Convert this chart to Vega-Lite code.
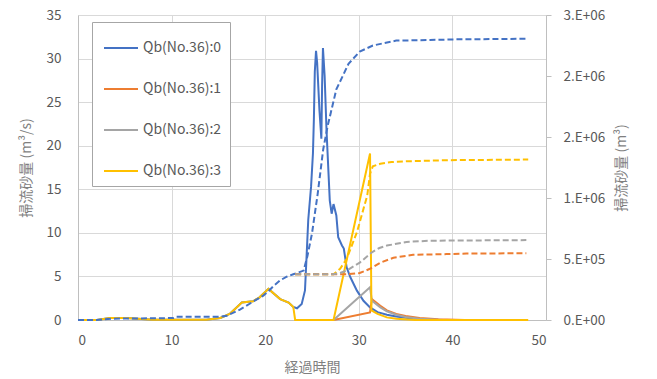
{
  "$schema": "https://vega.github.io/schema/vega-lite/v6.json",
  "width": 468,
  "height": 305,
  "autosize": {"type": "none"},
  "padding": {"left": 78, "top": 15, "right": 111, "bottom": 59},
  "background": "white",
  "config": {
    "view": {"stroke": null},
    "font": "Noto Sans CJK JP",
    "axis": {
      "labelFont": "Noto Sans CJK JP",
      "titleFont": "Noto Sans CJK JP",
      "labelFontSize": 13.5,
      "titleFontSize": 14,
      "titleFontWeight": "normal",
      "labelColor": "#595959",
      "titleColor": "#7f7f7f",
      "gridColor": "#d9d9d9",
      "gridWidth": 1,
      "domainColor": "#bfbfbf",
      "tickColor": "#bfbfbf"
    }
  },
  "datasets": {
    "rate": [
      {"s": "Qb(No.36):0", "t": 0, "q": 0},
      {"s": "Qb(No.36):0", "t": 2, "q": 0},
      {"s": "Qb(No.36):0", "t": 3.4, "q": 0.23},
      {"s": "Qb(No.36):0", "t": 5.2, "q": 0.23},
      {"s": "Qb(No.36):0", "t": 8, "q": 0.02},
      {"s": "Qb(No.36):0", "t": 13.7, "q": 0.02},
      {"s": "Qb(No.36):0", "t": 15.2, "q": 0.23},
      {"s": "Qb(No.36):0", "t": 16.2, "q": 0.7},
      {"s": "Qb(No.36):0", "t": 17, "q": 1.5},
      {"s": "Qb(No.36):0", "t": 17.5, "q": 2.0},
      {"s": "Qb(No.36):0", "t": 18.7, "q": 2.15},
      {"s": "Qb(No.36):0", "t": 19.4, "q": 2.6},
      {"s": "Qb(No.36):0", "t": 20.35, "q": 3.57},
      {"s": "Qb(No.36):0", "t": 21.6, "q": 2.4},
      {"s": "Qb(No.36):0", "t": 22.5, "q": 2.0},
      {"s": "Qb(No.36):0", "t": 23.0, "q": 1.5},
      {"s": "Qb(No.36):0", "t": 23.4, "q": 1.35},
      {"s": "Qb(No.36):0", "t": 23.9, "q": 1.84},
      {"s": "Qb(No.36):0", "t": 24.25, "q": 3.4},
      {"s": "Qb(No.36):0", "t": 24.4, "q": 6.8},
      {"s": "Qb(No.36):0", "t": 24.6, "q": 11.5},
      {"s": "Qb(No.36):0", "t": 24.9, "q": 15.3},
      {"s": "Qb(No.36):0", "t": 25.1, "q": 19.1},
      {"s": "Qb(No.36):0", "t": 25.2, "q": 23},
      {"s": "Qb(No.36):0", "t": 25.3, "q": 28.5},
      {"s": "Qb(No.36):0", "t": 25.43, "q": 30.9},
      {"s": "Qb(No.36):0", "t": 25.55, "q": 29.5},
      {"s": "Qb(No.36):0", "t": 25.8, "q": 24},
      {"s": "Qb(No.36):0", "t": 26.0, "q": 20.8},
      {"s": "Qb(No.36):0", "t": 26.08, "q": 27},
      {"s": "Qb(No.36):0", "t": 26.17, "q": 31.2},
      {"s": "Qb(No.36):0", "t": 26.35, "q": 28},
      {"s": "Qb(No.36):0", "t": 26.55, "q": 21.8},
      {"s": "Qb(No.36):0", "t": 26.9, "q": 13.7},
      {"s": "Qb(No.36):0", "t": 27.1, "q": 12.2},
      {"s": "Qb(No.36):0", "t": 27.3, "q": 13.3},
      {"s": "Qb(No.36):0", "t": 27.6, "q": 12.0},
      {"s": "Qb(No.36):0", "t": 27.8, "q": 9.5},
      {"s": "Qb(No.36):0", "t": 28.2, "q": 8.55},
      {"s": "Qb(No.36):0", "t": 28.4, "q": 8.2},
      {"s": "Qb(No.36):0", "t": 28.7, "q": 6.05},
      {"s": "Qb(No.36):0", "t": 29.1, "q": 4.9},
      {"s": "Qb(No.36):0", "t": 29.8, "q": 3.37},
      {"s": "Qb(No.36):0", "t": 30.5, "q": 2.2},
      {"s": "Qb(No.36):0", "t": 31.2, "q": 1.45},
      {"s": "Qb(No.36):0", "t": 32, "q": 0.9},
      {"s": "Qb(No.36):0", "t": 33, "q": 0.6},
      {"s": "Qb(No.36):0", "t": 34, "q": 0.4},
      {"s": "Qb(No.36):0", "t": 35, "q": 0.25},
      {"s": "Qb(No.36):0", "t": 36.5, "q": 0.1},
      {"s": "Qb(No.36):0", "t": 38.3, "q": 0},
      {"s": "Qb(No.36):1", "t": 23.2, "q": 0},
      {"s": "Qb(No.36):1", "t": 27.3, "q": 0},
      {"s": "Qb(No.36):1", "t": 31.2, "q": 0.87},
      {"s": "Qb(No.36):1", "t": 31.4, "q": 2.4},
      {"s": "Qb(No.36):1", "t": 32.3, "q": 1.64},
      {"s": "Qb(No.36):1", "t": 33, "q": 1.1},
      {"s": "Qb(No.36):1", "t": 34, "q": 0.69},
      {"s": "Qb(No.36):1", "t": 35, "q": 0.45},
      {"s": "Qb(No.36):1", "t": 36.5, "q": 0.23},
      {"s": "Qb(No.36):1", "t": 38.5, "q": 0.1},
      {"s": "Qb(No.36):1", "t": 41.3, "q": 0},
      {"s": "Qb(No.36):2", "t": 23.2, "q": 0},
      {"s": "Qb(No.36):2", "t": 27.3, "q": 0},
      {"s": "Qb(No.36):2", "t": 31.2, "q": 3.75},
      {"s": "Qb(No.36):2", "t": 31.4, "q": 2.2},
      {"s": "Qb(No.36):2", "t": 32.3, "q": 1.45},
      {"s": "Qb(No.36):2", "t": 33, "q": 1.0},
      {"s": "Qb(No.36):2", "t": 34, "q": 0.6},
      {"s": "Qb(No.36):2", "t": 35, "q": 0.35},
      {"s": "Qb(No.36):2", "t": 36.5, "q": 0.15},
      {"s": "Qb(No.36):2", "t": 39, "q": 0},
      {"s": "Qb(No.36):3", "t": 0, "q": 0},
      {"s": "Qb(No.36):3", "t": 2, "q": 0},
      {"s": "Qb(No.36):3", "t": 3.4, "q": 0.23},
      {"s": "Qb(No.36):3", "t": 5.2, "q": 0.23},
      {"s": "Qb(No.36):3", "t": 8, "q": 0.02},
      {"s": "Qb(No.36):3", "t": 13.7, "q": 0.02},
      {"s": "Qb(No.36):3", "t": 15.2, "q": 0.23},
      {"s": "Qb(No.36):3", "t": 16.2, "q": 0.7},
      {"s": "Qb(No.36):3", "t": 17, "q": 1.5},
      {"s": "Qb(No.36):3", "t": 17.5, "q": 2.0},
      {"s": "Qb(No.36):3", "t": 18.7, "q": 2.15},
      {"s": "Qb(No.36):3", "t": 19.4, "q": 2.6},
      {"s": "Qb(No.36):3", "t": 20.35, "q": 3.57},
      {"s": "Qb(No.36):3", "t": 21.6, "q": 2.4},
      {"s": "Qb(No.36):3", "t": 22.5, "q": 2.0},
      {"s": "Qb(No.36):3", "t": 23.0, "q": 1.5},
      {"s": "Qb(No.36):3", "t": 23.2, "q": 0},
      {"s": "Qb(No.36):3", "t": 27.3, "q": 0},
      {"s": "Qb(No.36):3", "t": 31.2, "q": 19.1},
      {"s": "Qb(No.36):3", "t": 31.35, "q": 1.1},
      {"s": "Qb(No.36):3", "t": 32, "q": 0.7},
      {"s": "Qb(No.36):3", "t": 33, "q": 0.3},
      {"s": "Qb(No.36):3", "t": 34, "q": 0.15},
      {"s": "Qb(No.36):3", "t": 36, "q": 0},
      {"s": "Qb(No.36):3", "t": 48.1, "q": 0}
    ],
    "vol": [
      {"s": "Qb(No.36):0", "t": 0, "v": 0},
      {"s": "Qb(No.36):0", "t": 2, "v": 0},
      {"s": "Qb(No.36):0", "t": 3.8, "v": 11000},
      {"s": "Qb(No.36):0", "t": 10.2, "v": 16000},
      {"s": "Qb(No.36):0", "t": 10.5, "v": 27000},
      {"s": "Qb(No.36):0", "t": 15.2, "v": 27000},
      {"s": "Qb(No.36):0", "t": 15.9, "v": 35000},
      {"s": "Qb(No.36):0", "t": 17.3, "v": 85000},
      {"s": "Qb(No.36):0", "t": 18.7, "v": 150000},
      {"s": "Qb(No.36):0", "t": 19.8, "v": 200000},
      {"s": "Qb(No.36):0", "t": 20.4, "v": 240000},
      {"s": "Qb(No.36):0", "t": 20.9, "v": 280000},
      {"s": "Qb(No.36):0", "t": 21.6, "v": 325000},
      {"s": "Qb(No.36):0", "t": 22.3, "v": 355000},
      {"s": "Qb(No.36):0", "t": 23.0, "v": 375000},
      {"s": "Qb(No.36):0", "t": 24.1, "v": 405000},
      {"s": "Qb(No.36):0", "t": 24.5, "v": 520000},
      {"s": "Qb(No.36):0", "t": 25.0, "v": 710000},
      {"s": "Qb(No.36):0", "t": 25.6, "v": 1030000},
      {"s": "Qb(No.36):0", "t": 26.2, "v": 1400000},
      {"s": "Qb(No.36):0", "t": 26.7, "v": 1600000},
      {"s": "Qb(No.36):0", "t": 27.6, "v": 1890000},
      {"s": "Qb(No.36):0", "t": 28.9, "v": 2100000},
      {"s": "Qb(No.36):0", "t": 30.1, "v": 2200000},
      {"s": "Qb(No.36):0", "t": 31.5, "v": 2250000},
      {"s": "Qb(No.36):0", "t": 34, "v": 2290000},
      {"s": "Qb(No.36):0", "t": 37.6, "v": 2295000},
      {"s": "Qb(No.36):0", "t": 40.1, "v": 2300000},
      {"s": "Qb(No.36):0", "t": 47.9, "v": 2305000},
      {"s": "Qb(No.36):3", "t": 23.2, "v": 375000},
      {"s": "Qb(No.36):3", "t": 27.3, "v": 375000},
      {"s": "Qb(No.36):3", "t": 28.0, "v": 420000},
      {"s": "Qb(No.36):3", "t": 28.7, "v": 500000},
      {"s": "Qb(No.36):3", "t": 29.8, "v": 720000},
      {"s": "Qb(No.36):3", "t": 30.9, "v": 1020000},
      {"s": "Qb(No.36):3", "t": 31.2, "v": 1200000},
      {"s": "Qb(No.36):3", "t": 31.5, "v": 1260000},
      {"s": "Qb(No.36):3", "t": 32.3, "v": 1280000},
      {"s": "Qb(No.36):3", "t": 33.5, "v": 1295000},
      {"s": "Qb(No.36):3", "t": 34.8, "v": 1300000},
      {"s": "Qb(No.36):3", "t": 39.4, "v": 1310000},
      {"s": "Qb(No.36):3", "t": 48.1, "v": 1315000},
      {"s": "Qb(No.36):1", "t": 23.2, "v": 375000},
      {"s": "Qb(No.36):1", "t": 28.5, "v": 375000},
      {"s": "Qb(No.36):1", "t": 30.1, "v": 385000},
      {"s": "Qb(No.36):1", "t": 31.2, "v": 420000},
      {"s": "Qb(No.36):1", "t": 32.3, "v": 470000},
      {"s": "Qb(No.36):1", "t": 33.7, "v": 510000},
      {"s": "Qb(No.36):1", "t": 35.8, "v": 535000},
      {"s": "Qb(No.36):1", "t": 39.4, "v": 540000},
      {"s": "Qb(No.36):1", "t": 41.5, "v": 545000},
      {"s": "Qb(No.36):1", "t": 47.9, "v": 547000},
      {"s": "Qb(No.36):2", "t": 23.2, "v": 375000},
      {"s": "Qb(No.36):2", "t": 27.3, "v": 375000},
      {"s": "Qb(No.36):2", "t": 28.0, "v": 385000},
      {"s": "Qb(No.36):2", "t": 28.7, "v": 405000},
      {"s": "Qb(No.36):2", "t": 30.1, "v": 470000},
      {"s": "Qb(No.36):2", "t": 31.4, "v": 555000},
      {"s": "Qb(No.36):2", "t": 32.2, "v": 590000},
      {"s": "Qb(No.36):2", "t": 33, "v": 610000},
      {"s": "Qb(No.36):2", "t": 35.1, "v": 640000},
      {"s": "Qb(No.36):2", "t": 37.6, "v": 650000},
      {"s": "Qb(No.36):2", "t": 41.9, "v": 652000},
      {"s": "Qb(No.36):2", "t": 47.9, "v": 655000}
    ]
  },
  "layer": [
    {
      "data": {"name": "rate"},
      "mark": {"type": "line", "strokeWidth": 2},
      "encoding": {
        "x": {
          "field": "t", "type": "quantitative",
          "scale": {"domain": [0, 50], "nice": false},
          "axis": {
            "title": "経過時間",
            "values": [0, 10, 20, 30, 40, 50],
            "grid": true, "ticks": false, "tickSize": 0,
            "labelPadding": 13, "titlePadding": 14,
            "domain": true
          }
        },
        "y": {
          "field": "q", "type": "quantitative",
          "scale": {"domain": [0, 35], "nice": false},
          "axis": {
            "title": "掃流砂量 (m³/s)",
            "values": [0, 5, 10, 15, 20, 25, 30, 35],
            "grid": true, "ticks": false, "tickSize": 0,
            "labelPadding": 17, "titlePadding": 13,
            "domain": true
          }
        },
        "color": {
          "field": "s", "type": "nominal",
          "scale": {
            "domain": ["Qb(No.36):0", "Qb(No.36):1", "Qb(No.36):2", "Qb(No.36):3"],
            "range": ["#4472c4", "#ed7d31", "#a5a5a5", "#ffc000"]
          },
          "legend": {
            "orient": "none", "legendX": 14, "legendY": 7,
            "direction": "vertical", "title": null,
            "symbolType": "stroke", "symbolSize": 1156,
            "symbolStrokeWidth": 2, "symbolDash": [1, 0],
            "symbolOffset": 3, "padding": 8, "rowPadding": 16,
            "labelFontSize": 14, "labelColor": "#595959",
            "labelFont": "Noto Sans CJK JP",
            "labelOffset": 4,
            "labelExpr": "datum.label + '\u00a0\u00a0\u00a0\u00a0\u00a0'",
            "strokeColor": "#a6a6a6", "fillColor": "white",
            "cornerRadius": 0
          }
        }
      }
    },
    {
      "data": {"name": "vol"},
      "mark": {"type": "line", "strokeWidth": 2, "strokeDash": [6, 3]},
      "encoding": {
        "x": {"field": "t", "type": "quantitative"},
        "y": {
          "field": "v", "type": "quantitative",
          "scale": {"domain": [0, 2500000], "nice": false},
          "axis": {
            "orient": "right",
            "title": "掃流砂量 (m³)",
            "titleAngle": 270,
            "values": [0, 500000, 1000000, 1500000, 2000000, 2500000],
            "labelExpr": "replace(replace(format(datum.value, '.0e'), 'e+', '.E+0'), 'e-', '.E-0')",
            "grid": false, "ticks": true, "tickSize": 5,
            "labelPadding": 12, "titlePadding": 24,
            "domain": true
          }
        },
        "color": {"field": "s", "type": "nominal"}
      }
    }
  ],
  "resolve": {"scale": {"y": "independent"}}
}
